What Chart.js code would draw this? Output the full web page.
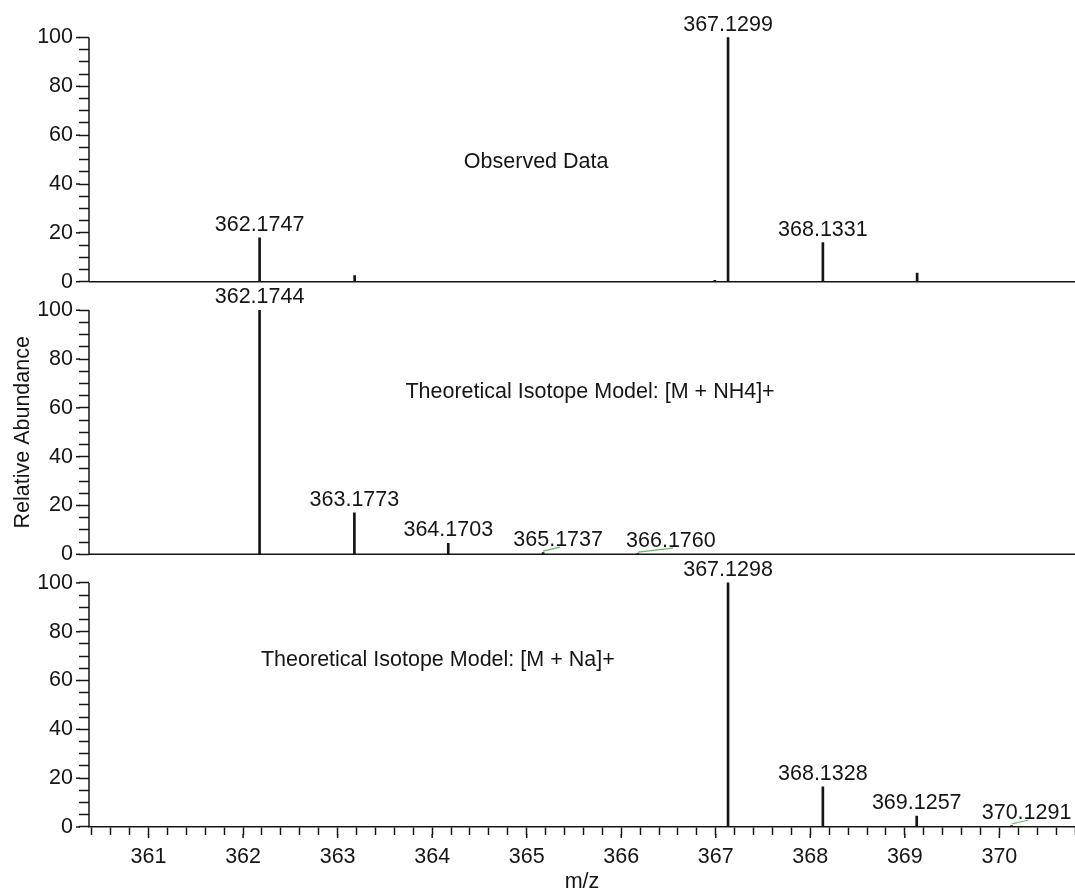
<!DOCTYPE html>
<html>
<head>
<meta charset="utf-8">
<title>Isotope model comparison</title>
<script src="https://cdn.jsdelivr.net/npm/chart.js@4.4.1/dist/chart.umd.min.js"></script>
<style>
  html, body { margin: 0; padding: 0; background: #fff; }
  #wrap { width: 1075px; height: 893px; position: relative; }
</style>
</head>
<body>
<div id="wrap"><canvas id="spectrum"></canvas></div>
<script>
// m/z range of the shared axis
const mzMin = 360.37;
const mzMax = 370.8;

// Observed data
const obsMz = [362.1747, 363.18, 366.99, 367.1299, 368.1331, 369.13];
const obsAbund = [18, 2.5, 0.5, 100, 16, 3.5];
const obsLabels = ['362.1747', '', '', '367.1299', '368.1331', ''];

// Theoretical isotope model [M + NH4]+
const nh4Mz = [362.1744, 363.1773, 364.1703, 365.1737, 366.1760];
const nh4Abund = [100, 17, 4.5, 0.7, 0.3];

// Theoretical isotope model [M + Na]+
const naMz = [367.1298, 368.1328, 369.1257, 370.1291];
const naAbund = [100, 16.5, 4.5, 0.6];

const panelTitles = ['Observed Data', 'Theoretical Isotope Model: [M + NH4]+', 'Theoretical Isotope Model: [M + Na]+'];
const yTickValues = [0, 20, 40, 60, 80, 100];
const mzTickValues = [361, 362, 363, 364, 365, 366, 367, 368, 369, 370];

// where the panel titles sit, in data units (m/z, abundance)
const titleAnchors = [[365.10, 48.8], [365.67, 66.4], [364.06, 68.3]];
// labels pushed right of tiny peaks, joined by a green leader (px)
const leaderShift = { '365.1737': 15, '366.1760': 33, '370.1291': 15 };

const INK = '#151515';
const FAMILY = '"Liberation Sans", Arial, Helvetica, sans-serif';
const FONT_SIZE = 21.5;
const yMax = 111.7;
const panelIds = ['yTop', 'yMid', 'yBot'];

Chart.defaults.font.family = FAMILY;

function peaks(mz, abund) {
    return mz.map((x, i) => ({ x: x, y: abund[i] }));
}

function stickSet(mz, abund, labels, axisId) {
    return {
        type: 'bar',
        data: peaks(mz, abund),
        peakLabels: labels,
        xAxisID: 'x',
        yAxisID: axisId,
        backgroundColor: INK,
        barThickness: 2,
        grouped: false,
        borderWidth: 0
    };
}

function panelAxis(weight) {
    return {
        type: 'linear',
        position: 'left',
        stack: 'panels',
        stackWeight: 1,
        weight: weight,
        min: 0,
        max: yMax,
        afterBuildTicks: s => {
            s.ticks = [];
            for (let v = 0; v <= 100; v += 5) s.ticks.push({ value: v });
        },
        afterFit: s => {
            s.width = 89;
            s.paddingTop = 0;
            s.paddingBottom = 0;
        },
        border: { display: false },
        grid: { drawOnChartArea: false, tickLength: 10, tickWidth: 1.5, tickColor: INK },
        ticks: {
            autoSkip: false,
            padding: 6,
            color: INK,
            font: { size: FONT_SIZE },
            callback: v => (v % 20 === 0 ? v : '')
        }
    };
}

// axis lines, longer major ticks, baselines, peak labels and panel titles
const spectrumDecor = {
    id: 'spectrumDecor',
    afterDraw(chart) {
        const { ctx, chartArea } = chart;
        const xs = chart.scales.x;
        ctx.save();
        ctx.strokeStyle = INK;
        ctx.lineWidth = 1.5;
        ctx.fillStyle = INK;
        ctx.font = FONT_SIZE + 'px ' + FAMILY;

        panelIds.forEach((id, p) => {
            const s = chart.scales[id];
            const y0 = s.getPixelForValue(0);
            ctx.beginPath();
            ctx.moveTo(chartArea.left, y0);
            ctx.lineTo(chartArea.left, s.getPixelForValue(100));
            ctx.stroke();
            yTickValues.forEach(v => {
                const py = s.getPixelForValue(v);
                ctx.beginPath();
                ctx.moveTo(chartArea.left - 9, py);
                ctx.lineTo(chartArea.left - 13, py);
                ctx.stroke();
            });
            if (id !== 'yBot') {
                ctx.beginPath();
                ctx.moveTo(chartArea.left, y0);
                ctx.lineTo(chartArea.right, y0);
                ctx.stroke();
            }
            // panel title
            ctx.textAlign = 'center';
            ctx.textBaseline = 'middle';
            ctx.fillText(panelTitles[p], xs.getPixelForValue(titleAnchors[p][0]), s.getPixelForValue(titleAnchors[p][1]));
        });

        // longer ticks at whole m/z values
        mzTickValues.forEach(v => {
            const px = xs.getPixelForValue(v);
            ctx.beginPath();
            ctx.moveTo(px, chartArea.bottom + 7);
            ctx.lineTo(px, chartArea.bottom + 11);
            ctx.stroke();
        });

        // peak labels
        ctx.textAlign = 'center';
        ctx.textBaseline = 'alphabetic';
        chart.data.datasets.forEach((ds, i) => {
            const meta = chart.getDatasetMeta(i);
            meta.data.forEach((bar, j) => {
                const text = ds.peakLabels[j];
                if (!text) return;
                const shift = leaderShift[text] || 0;
                const tx = bar.x + shift;
                const ty = bar.y - 7;
                if (shift) {
                    ctx.save();
                    ctx.strokeStyle = '#5fb85f';
                    ctx.lineWidth = 1.2;
                    ctx.beginPath();
                    ctx.moveTo(bar.x, bar.y - 1.5);
                    ctx.lineTo(tx + 2, ty + 1.5);
                    ctx.stroke();
                    ctx.restore();
                }
                ctx.fillText(text, tx, ty);
            });
        });

        // y axis title, centred on the middle panel's 0-100 span
        const mid = chart.scales.yMid;
        const cy = (mid.getPixelForValue(0) + mid.getPixelForValue(100)) / 2;
        ctx.translate(23, cy);
        ctx.rotate(-Math.PI / 2);
        ctx.textBaseline = 'middle';
        ctx.fillText('Relative Abundance', 0, 0);
        ctx.restore();
    }
};

const fmt = mz => mz.map(v => v.toFixed(4));

new Chart(document.getElementById('spectrum'), {
    type: 'bar',
    data: {
        datasets: [
            stickSet(obsMz, obsAbund, obsLabels, 'yTop'),
            stickSet(nh4Mz, nh4Abund, fmt(nh4Mz), 'yMid'),
            stickSet(naMz, naAbund, fmt(naMz), 'yBot')
        ]
    },
    options: {
        responsive: true,
        maintainAspectRatio: false,
        animation: false,
        layout: { padding: { top: 9, left: 0, right: 0, bottom: 0 } },
        plugins: {
            legend: { display: false },
            tooltip: { enabled: false }
        },
        scales: {
            x: {
                type: 'linear',
                position: 'bottom',
                offset: false,
                min: mzMin,
                max: mzMax,
                afterBuildTicks: s => {
                    s.ticks = [];
                    for (let k = Math.ceil(mzMin * 5); k <= Math.floor(mzMax * 5 + 1e-9); k++) {
                        s.ticks.push({ value: k / 5 });
                    }
                },
                afterFit: s => {
                    s.height = 66;
                    s.paddingLeft = 0;
                    s.paddingRight = 0;
                },
                border: { display: true, color: INK, width: 1.5 },
                grid: { offset: false, drawOnChartArea: false, tickLength: 8, tickWidth: 1.5, tickColor: INK },
                ticks: {
                    autoSkip: false,
                    maxRotation: 0,
                    padding: 9,
                    color: INK,
                    font: { size: FONT_SIZE },
                    callback: v => (Math.abs(v - Math.round(v)) < 1e-6 ? Math.round(v) : '')
                },
                title: {
                    display: true,
                    text: 'm/z',
                    color: INK,
                    font: { size: FONT_SIZE, lineHeight: 1 },
                    padding: { top: 0, bottom: 0 }
                }
            },
            yBot: panelAxis(1),
            yMid: panelAxis(2),
            yTop: panelAxis(3)
        }
    },
    plugins: [spectrumDecor]
});
</script>
</body>
</html>
